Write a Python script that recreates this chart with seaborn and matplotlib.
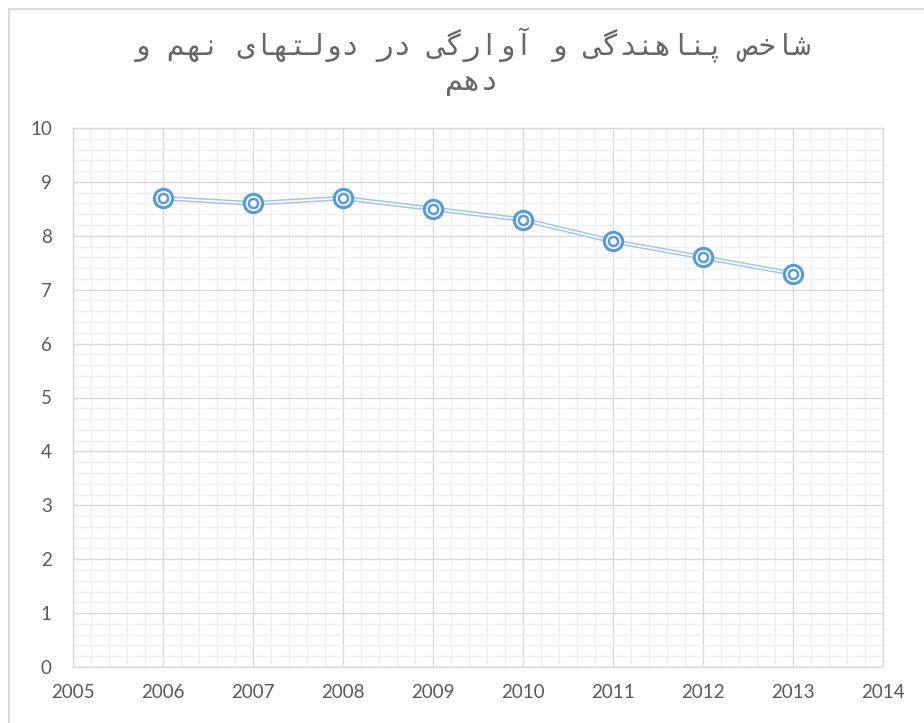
import matplotlib
matplotlib.use("Agg")
import matplotlib.pyplot as plt
from matplotlib.patches import Rectangle
from matplotlib.ticker import MultipleLocator
import seaborn as sns
import pandas as pd

# ---- data ----
years = [2006, 2007, 2008, 2009, 2010, 2011, 2012, 2013]
values = [8.7, 8.6, 8.7, 8.5, 8.3, 7.9, 7.6, 7.3]
title_lines = ["شاخص پناهندگی و آوارگی در دولتهای نهم و", "دهم"]
x_ticks = [2005, 2006, 2007, 2008, 2009, 2010, 2011, 2012, 2013, 2014]
y_ticks = [0, 1, 2, 3, 4, 5, 6, 7, 8, 9, 10]

# ---- minimal Arabic/Persian shaping (presentation forms) ----
FORMS = {
    "ا": ("\uFE8D", "\uFE8E", None, None),
    "آ": ("\uFE81", "\uFE82", None, None),
    "د": ("\uFEA9", "\uFEAA", None, None),
    "ر": ("\uFEAD", "\uFEAE", None, None),
    "و": ("\uFEED", "\uFEEE", None, None),
    "پ": ("\uFB56", "\uFB57", "\uFB58", "\uFB59"),
    "ت": ("\uFE95", "\uFE96", "\uFE97", "\uFE98"),
    "خ": ("\uFEA5", "\uFEA6", "\uFEA7", "\uFEA8"),
    "ش": ("\uFEB5", "\uFEB6", "\uFEB7", "\uFEB8"),
    "ص": ("\uFEB9", "\uFEBA", "\uFEBB", "\uFEBC"),
    "گ": ("\uFB92", "\uFB93", "\uFB94", "\uFB95"),
    "ل": ("\uFEDD", "\uFEDE", "\uFEDF", "\uFEE0"),
    "م": ("\uFEE1", "\uFEE2", "\uFEE3", "\uFEE4"),
    "ن": ("\uFEE5", "\uFEE6", "\uFEE7", "\uFEE8"),
    "ه": ("\uFEE9", "\uFEEA", "\uFEEB", "\uFEEC"),
    "ی": ("\uFBFC", "\uFBFD", "\uFBFE", "\uFBFF"),
}


def shape(s):
    out = []
    for i, ch in enumerate(s):
        if ch not in FORMS:
            out.append(ch)
            continue
        prev = s[i - 1] if i > 0 else None
        nxt = s[i + 1] if i + 1 < len(s) else None
        jp = prev in FORMS and FORMS[prev][2] is not None
        jn = nxt in FORMS and FORMS[ch][2] is not None
        iso, fin, ini, med = FORMS[ch]
        if jp and jn:
            out.append(med)
        elif jp:
            out.append(fin)
        elif jn:
            out.append(ini)
        else:
            out.append(iso)
    return "".join(reversed(out))


sns.set_theme(style="white")
plt.rcParams["font.family"] = ["Lato", "DejaVu Sans"]

fig = plt.figure(figsize=(9.24, 7.23), dpi=100)
ax = fig.add_axes([72.7 / 924, 56 / 723, 810 / 924, 539 / 723])

df = pd.DataFrame({"year": years, "value": values})

# double (compound) line
sns.lineplot(data=df, x="year", y="value", ax=ax, color="#a3c6e8", lw=3.4, zorder=3)
sns.lineplot(data=df, x="year", y="value", ax=ax, color="white", lw=1.2, zorder=4)
# target markers
sns.scatterplot(data=df, x="year", y="value", ax=ax, s=13.2 ** 2, facecolor="white",
                edgecolor="#5b9bd5", linewidth=2.2, zorder=5)
sns.scatterplot(data=df, x="year", y="value", ax=ax, s=6.6 ** 2, facecolor="white",
                edgecolor="#5b9bd5", linewidth=1.8, zorder=6)

ax.set_xlim(2005, 2014)
ax.set_ylim(0, 10)
ax.set_xticks(x_ticks)
ax.set_yticks(y_ticks)
ax.xaxis.set_minor_locator(MultipleLocator(0.2))
ax.yaxis.set_minor_locator(MultipleLocator(0.2))
ax.grid(which="major", color="#d9d9d9", lw=1.0, zorder=1)
ax.grid(which="minor", color="#efefef", lw=1.0, zorder=0)
ax.set_axisbelow(True)
ax.set_xlabel("")
ax.set_ylabel("")
for sp in ax.spines.values():
    sp.set_visible(True)
    sp.set_color("#d9d9d9")
    sp.set_linewidth(1.0)
ax.tick_params(axis="both", which="both", length=0, labelsize=13.5, colors="#595959")
ax.tick_params(axis="y", pad=15)
ax.tick_params(axis="x", pad=12)

# title
title = "\n".join(shape(t) for t in title_lines)
fig.text(0.511, 1 - 62 / 723, title, ha="center", va="center", fontsize=20.8,
         color="#666666", family=["DejaVu Sans Mono", "DejaVu Sans"], linespacing=1.25)

# chart-area border
fig.patches.append(Rectangle((8.5 / 924, -0.1), 1.2, 1.1 - 9.5 / 723,
                             transform=fig.transFigure, fill=False,
                             edgecolor="#d9d9d9", lw=1.5, clip_on=False))

fig.savefig("out.png", dpi=100)
